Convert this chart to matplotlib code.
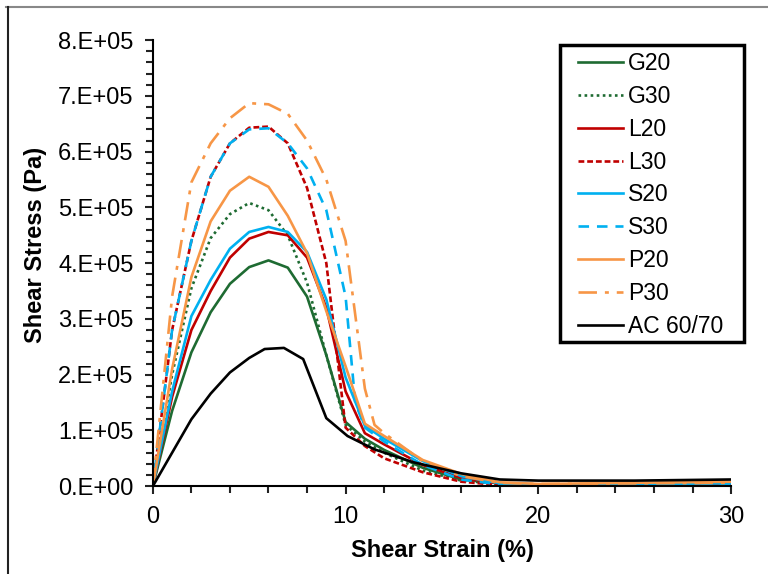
import matplotlib
matplotlib.use("Agg")
import matplotlib.pyplot as plt
from matplotlib.ticker import MultipleLocator, FuncFormatter
from matplotlib.lines import Line2D
from matplotlib.patches import Rectangle

plt.rcParams['font.family'] = ['Liberation Sans', 'DejaVu Sans']

# ---- data (stress in 1e5 Pa) ----
x_std = [0, 1, 2, 3, 4, 5, 6, 7, 8, 9, 10, 11, 12, 14, 16, 18, 20, 25, 30]

g20 = [0, 1.35, 2.4, 3.12, 3.63, 3.93, 4.05, 3.92, 3.4, 2.35, 1.15, 0.85, 0.65, 0.33, 0.12, 0.05, 0.03, 0.04, 0.06]
g30 = [0, 2.0, 3.55, 4.45, 4.88, 5.08, 4.95, 4.5, 3.65, 2.35, 1.1, 0.8, 0.6, 0.28, 0.1, 0.04, 0.03, 0.04, 0.05]
l20 = [0, 1.6, 2.8, 3.5, 4.1, 4.44, 4.56, 4.5, 4.1, 3.2, 1.7, 0.95, 0.75, 0.38, 0.15, 0.05, 0.03, 0.04, 0.05]
l30 = [0, 2.8, 4.4, 5.55, 6.15, 6.43, 6.45, 6.15, 5.35, 4.0, 1.05, 0.72, 0.5, 0.25, 0.08, 0.02, 0.02, 0.03, 0.04]
s20 = [0, 1.7, 3.05, 3.7, 4.26, 4.56, 4.65, 4.56, 4.2, 3.35, 1.95, 1.08, 0.85, 0.45, 0.18, 0.05, 0.03, 0.04, 0.05]
p20 = [0, 2.1, 3.75, 4.75, 5.3, 5.55, 5.37, 4.85, 4.18, 3.14, 2.15, 1.12, 0.9, 0.47, 0.22, 0.07, 0.04, 0.06, 0.08]

x_s30 = [0, 1, 2, 3, 4, 5, 6, 7, 8, 9, 10, 10.5, 11, 12, 14, 16, 18, 20, 25, 30]
s30 = [0, 2.8, 4.4, 5.55, 6.15, 6.4, 6.42, 6.15, 5.7, 4.95, 3.4, 1.5, 1.05, 0.8, 0.38, 0.12, 0.03, 0.02, 0.03, 0.04]

x_p30 = [0, 1, 2, 3, 4, 5, 6, 7, 8, 9, 10, 11, 11.5, 12, 14, 16, 18, 20, 25, 30]
p30 = [0, 3.4, 5.45, 6.15, 6.6, 6.87, 6.85, 6.68, 6.2, 5.5, 4.4, 1.75, 1.1, 0.95, 0.45, 0.18, 0.06, 0.04, 0.05, 0.06]

x_ac = [0, 2, 3, 4, 5, 5.8, 6.8, 7.8, 9, 10.1, 11.5, 13.5, 16, 18, 20, 25, 30]
ac = [0, 1.2, 1.66, 2.04, 2.3, 2.46, 2.48, 2.28, 1.22, 0.9, 0.66, 0.43, 0.23, 0.12, 0.1, 0.1, 0.12]

labels = ["G20", "G30", "L20", "L30", "S20", "S30", "P20", "P30", "AC 60/70"]

GREEN = '#1e6b32'
RED = '#c00000'
BLUE = '#00b0f0'
ORANGE = '#f79646'

W, H = 768, 574
fig = plt.figure(figsize=(W / 100, H / 100), dpi=100)
ax = fig.add_axes([0.199, 0.153, 0.753, 0.777])

lw = 1.9
sc = 1e5
handles = []
h, = ax.plot(x_std, [v * sc for v in g20], color=GREEN, ls='-', lw=lw); handles.append(h)
h, = ax.plot(x_std, [v * sc for v in g30], color=GREEN, ls=(0, (1, 1.3)), lw=lw); handles.append(h)
h, = ax.plot(x_std, [v * sc for v in l20], color=RED, ls='-', lw=lw); handles.append(h)
h, = ax.plot(x_std, [v * sc for v in l30], color=RED, ls=(0, (2.2, 1.1)), lw=lw); handles.append(h)
h, = ax.plot(x_std, [v * sc for v in s20], color=BLUE, ls='-', lw=lw); handles.append(h)
h, = ax.plot(x_s30, [v * sc for v in s30], color=BLUE, ls=(0, (4, 3)), lw=lw); handles.append(h)
h, = ax.plot(x_std, [v * sc for v in p20], color=ORANGE, ls='-', lw=lw); handles.append(h)
h, = ax.plot(x_p30, [v * sc for v in p30], color=ORANGE, ls=(0, (7, 3, 1.5, 3)), lw=lw); handles.append(h)
h, = ax.plot(x_ac, [v * sc for v in ac], color='black', ls='-', lw=lw); handles.append(h)

ax.set_xlim(0, 30)
ax.set_ylim(0, 8e5)
ax.xaxis.set_major_locator(MultipleLocator(10))
ax.xaxis.set_minor_locator(MultipleLocator(2))
ax.yaxis.set_major_locator(MultipleLocator(1e5))
ax.yaxis.set_minor_locator(MultipleLocator(2e4))

def yfmt(v, pos):
    if abs(v) < 1:
        return "0.E+00"
    return f"{v / 1e5:.0f}.E+05"
ax.yaxis.set_major_formatter(FuncFormatter(yfmt))

for s in ['top', 'right']:
    ax.spines[s].set_visible(False)
for s in ['left', 'bottom']:
    ax.spines[s].set_linewidth(1.5)
ax.tick_params(which='major', direction='out', length=6, width=1.5, labelsize=17, color='#222222')
ax.tick_params(which='minor', direction='out', length=5, width=1.5, color='#222222')
ax.tick_params(axis='y', pad=8)
ax.tick_params(axis='x', pad=8)

ax.set_xlabel("Shear Strain (%)", fontsize=17, fontweight='bold', labelpad=8)
ax.set_ylabel("Shear Stress (Pa)", fontsize=17, fontweight='bold')
ax.yaxis.set_label_coords(-0.183, 0.54)

leg = ax.legend(handles, labels, loc='upper left', bbox_to_anchor=(578 / W, 1 - 52 / H),
                bbox_transform=fig.transFigure, borderaxespad=0, borderpad=0,
                fontsize=16.5, frameon=False, labelspacing=0.43,
                handlelength=1.97, handletextpad=0.22)

# legend frame
fig.add_artist(Rectangle((560 / W, 1 - 342 / H), 184 / W, 297 / H, transform=fig.transFigure,
                         fill=False, edgecolor='black', lw=2.5))

# figure border remnants
fig.add_artist(Line2D([6 / W, 1], [1 - 6.5 / H, 1 - 6.5 / H], transform=fig.transFigure, color='#888888', lw=1.5))
fig.add_artist(Line2D([8 / W, 8 / W], [0, 1 - 6.5 / H], transform=fig.transFigure, color='#222222', lw=1.5))

fig.savefig("out.png", dpi=100)
